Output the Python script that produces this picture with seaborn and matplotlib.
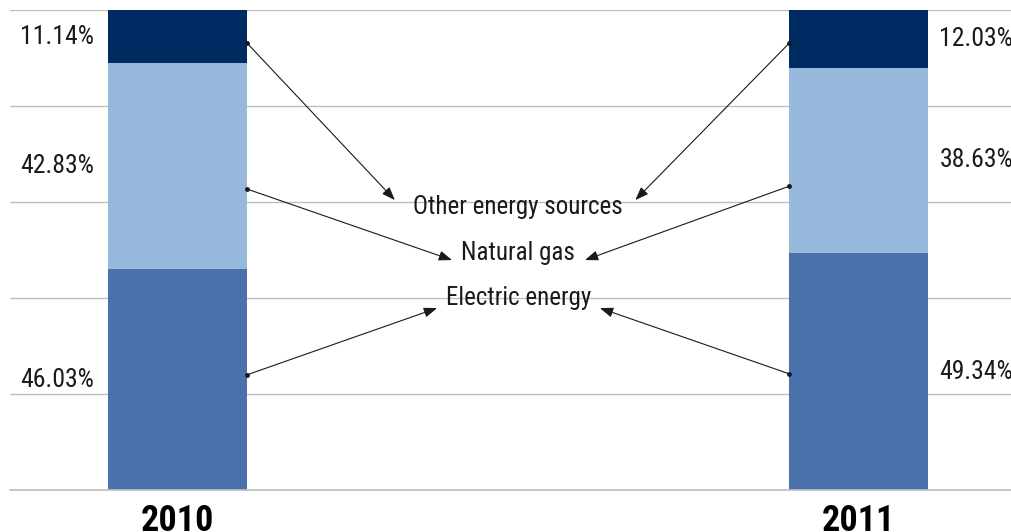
import pandas as pd
import seaborn as sns
import matplotlib.pyplot as plt

years = ["2010", "2011"]
electric = [46.03, 49.34]
gas = [42.83, 38.63]
other = [11.14, 12.03]
labels = ["Electric energy", "Natural gas", "Other energy sources"]
colors = ["#4A71AC", "#96B9DB", "#002A62"]

df = pd.DataFrame({"year": years, "Electric energy": electric,
                   "Natural gas": gas, "Other energy sources": other})

sns.set_style("white")
plt.rcParams["font.family"] = ["Roboto Condensed", "DejaVu Sans"]

fig = plt.figure(figsize=(10.12, 5.32), dpi=100)
ax = fig.add_axes([10 / 1012, 42 / 532, 1002 / 1012, 480 / 532])

# stacked bars: draw cumulative totals from the top layer down
cum = df[labels].cumsum(axis=1)
bw = 0.204
for lab, col in zip(labels[::-1], colors[::-1]):
    sns.barplot(x=df["year"], y=cum[lab], color=col, width=bw,
                saturation=1, linewidth=0, ax=ax, zorder=3)

ax.set_xlim(-0.246, 1.225)
ax.set_ylim(0, 100)
ax.set_yticks(range(0, 101, 20))
ax.yaxis.grid(True, color="#BEBEBE", lw=1, zorder=0)
ax.set_axisbelow(True)
ax.axhline(0, color="#BEBEBE", lw=1.2, clip_on=False, zorder=4)
ax.tick_params(axis="y", left=False, labelleft=False)
ax.tick_params(axis="x", bottom=False, pad=6)
for t in ax.get_xticklabels():
    t.set_fontsize(26)
    t.set_fontweight("bold")
    t.set_color("black")
ax.set_xlabel("")
ax.set_ylabel("")
for s in ax.spines.values():
    s.set_visible(False)

# percent labels at segment middles
for i, yr in enumerate(years):
    bottom = 0
    for lab in labels:
        v = df.loc[i, lab]
        mid = bottom + v / 2
        if i == 0:
            ax.annotate(f"{v:.2f}%", (i - bw / 2, mid), xytext=(-10, 0),
                        textcoords="offset points", ha="right", va="center",
                        fontsize=18.5, color="#1a1a1a")
        else:
            ax.annotate(f"{v:.2f}%", (i + bw / 2, mid), xytext=(8, 0),
                        textcoords="offset points", ha="left", va="center",
                        fontsize=18.5, color="#1a1a1a", annotation_clip=False)
        bottom += v

# center legend labels with arrows
label_y = {"Other energy sources": 59.0, "Natural gas": 49.4, "Electric energy": 40.0}
start_y = {"Other energy sources": (93.1, 93.1), "Natural gas": (62.7, 63.3),
           "Electric energy": (24.0, 24.2)}
end_pt = {"Other energy sources": ((0.319, 60.4), (0.672, 60.4)),
          "Natural gas": ((0.403, 47.9), (0.598, 47.9)),
          "Electric energy": ((0.381, 37.9), (0.620, 37.9))}
for lab in labels:
    ax.text(0.5, label_y[lab], lab, ha="center", va="center", fontsize=18,
            color="#1a1a1a", zorder=5)
    for i in range(2):
        sx = i - bw / 2 if i == 1 else i + bw / 2
        sy = start_y[lab][i]
        ax.annotate("", xy=end_pt[lab][i], xytext=(sx, sy),
                    arrowprops=dict(arrowstyle="-|>,head_length=0.8,head_width=0.3",
                                    color="#1a1a1a", lw=0.8, shrinkA=0, shrinkB=0),
                    zorder=5)
        ax.plot(sx, sy, "o", color="#1a1a1a", ms=2.5, zorder=5)

fig.savefig("out.png", dpi=100)
